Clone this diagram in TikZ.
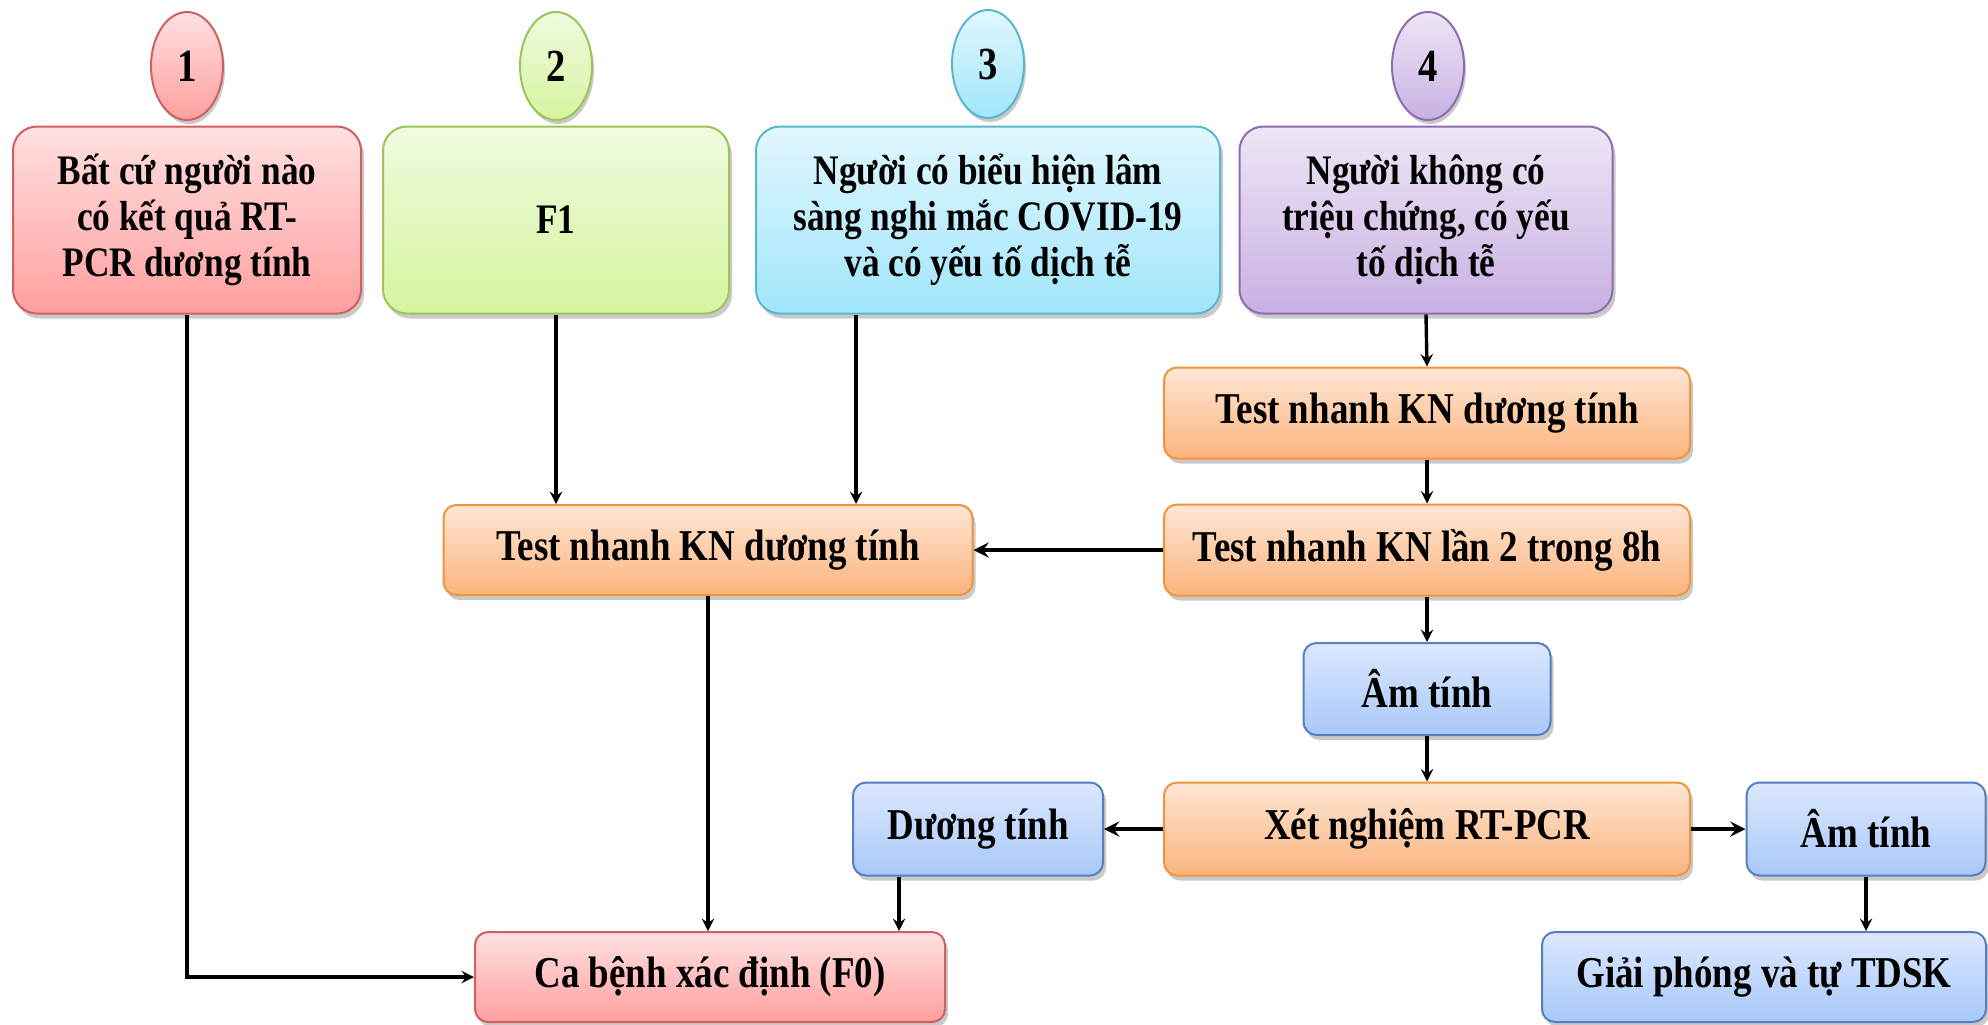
\documentclass[tikz,border=0pt]{standalone}
\usepackage{fontspec}
\newfontfamily\boxfont{Liberation Serif}[UprightFont={* Bold},FakeStretch=0.84]
\usetikzlibrary{shapes.geometric,shadows,calc}

\definecolor{redtop}{HTML}{FFE0E0}  \definecolor{redbot}{HTML}{FF9F9F}  \definecolor{redline}{HTML}{D06060}
\definecolor{greentop}{HTML}{F0FBE0}\definecolor{greenbot}{HTML}{D6F49E}\definecolor{greenline}{HTML}{9BC45A}
\definecolor{cyantop}{HTML}{E2F7FF} \definecolor{cyanbot}{HTML}{A0E6FA} \definecolor{cyanline}{HTML}{5AB5D0}
\definecolor{purptop}{HTML}{EEE6F6} \definecolor{purpbot}{HTML}{C8B0E2} \definecolor{purpline}{HTML}{8E6CB0}
\definecolor{orgtop}{HTML}{FFE6D4}  \definecolor{orgbot}{HTML}{FBB47E}  \definecolor{orgline}{HTML}{F0943C}
\definecolor{bluetop}{HTML}{DCE8FF} \definecolor{bluebot}{HTML}{A8C8F8} \definecolor{blueline}{HTML}{5580C0}

\tikzset{
  box/.style={draw,line width=1pt,rounded corners=6.5pt,inner sep=0pt,align=center,
    font=\boxfont\fontsize{22}{24}\selectfont,
    drop shadow={shadow xshift=1.5pt,shadow yshift=-2.5pt,opacity=.3,fill=black!70}},
  bigbox/.style={box,rounded corners=12pt,minimum height=93.5pt,font=\boxfont\fontsize{21}{23}\selectfont},
  num/.style={ellipse,draw,line width=1pt,inner sep=0pt,minimum width=36pt,minimum height=54pt,
    font=\boxfont\fontsize{23}{24}\selectfont,
    drop shadow={shadow xshift=1pt,shadow yshift=-2pt,opacity=.3,fill=black!70}},
  redc/.style={top color=redtop,bottom color=redbot,draw=redline},
  greenc/.style={top color=greentop,bottom color=greenbot,draw=greenline},
  cyanc/.style={top color=cyantop,bottom color=cyanbot,draw=cyanline},
  purpc/.style={top color=purptop,bottom color=purpbot,draw=purpline},
  orgc/.style={top color=orgtop,bottom color=orgbot,draw=orgline},
  bluec/.style={top color=bluetop,bottom color=bluebot,draw=blueline},
  flow/.style={->,line width=1.7pt},
  side/.style={->,line width=2.3pt}
}

\begin{document}
\begin{tikzpicture}[x=0.5pt,y=-0.5pt,>=stealth]
    \useasboundingbox (0,0) rectangle (1988,1024);
    % numbered groups
    \node[num,redc]   (c1) at (187,66)  {1};
    \node[num,greenc] (c2) at (556,66)  {2};
    \node[num,cyanc]  (c3) at (988,64)  {3};
    \node[num,purpc]  (c4) at (1428,66) {4};
    \node[bigbox,redc,minimum width=174pt]    (b1) at (187,220)  {Bất cứ người nào\\có kết quả RT-\\PCR dương tính};
    \node[bigbox,greenc,minimum width=173pt]  (b2) at (556,220)  {F1};
    \node[bigbox,cyanc,minimum width=232pt]   (b3) at (988,220)  {Người có biểu hiện lâm\\sàng nghi mắc COVID-19\\và có yếu tố dịch tễ};
    \node[bigbox,purpc,minimum width=186.5pt] (b4) at (1426,220) {Người không có\\triệu chứng, có yếu\\tố dịch tễ};
    % test steps
    \node[box,orgc,minimum width=263pt,minimum height=45.5pt]   (tn1) at (1427,413) {Test nhanh KN dương tính};
    \node[box,orgc,minimum width=263pt,minimum height=45.5pt]   (tn2) at (1427,550) {Test nhanh KN lần 2 trong 8h};
    \node[box,orgc,minimum width=264.5pt,minimum height=45pt]   (mid) at (708,550)  {Test nhanh KN dương tính};
    \node[box,bluec,minimum width=123.5pt,minimum height=46pt]  (am1) at (1427,689) {Âm tính};
    \node[box,orgc,minimum width=263pt,minimum height=46.5pt]   (xn) at (1427,829)  {Xét nghiệm RT-PCR};
    \node[box,bluec,minimum width=125pt,minimum height=46.5pt]  (duong) at (978,829) {Dương tính};
    \node[box,bluec,minimum width=119.5pt,minimum height=46.5pt](am2) at (1866,829) {Âm tính};
    \node[box,bluec,minimum width=222pt,minimum height=45pt]    (giai) at (1764,977) {Giải phóng và tự TDSK};
    \node[box,redc,minimum width=235pt,minimum height=45pt]     (f0) at (710,977)   {Ca bệnh xác định (F0)};
    % connectors
    \coordinate (p3) at ([xshift=74pt]mid.north);
    \coordinate (q)  at ([xshift=23.5pt]duong.south west);
    \draw[flow] (b1.south) |- (f0.west);
    \draw[flow] (b2.south) -- (b2.south |- mid.north);
    \draw[flow] (b3.south -| p3) -- (p3);
    \draw[flow] (mid.south) -- (mid.south |- f0.north);
    \draw[flow] (q) -- (q |- f0.north);
    \draw[flow] (b4.south) -- (tn1.north);
    \draw[flow] (tn1.south) -- (tn2.north);
    \draw[side] (tn2.west) -- (mid.east);
    \draw[flow] (tn2.south) -- (am1.north);
    \draw[flow] (am1.south) -- (xn.north);
    \draw[side] (xn.west) -- (duong.east);
    \draw[side] (xn.east) -- (am2.west);
    \draw[flow] (am2.south) -- (am2.south |- giai.north);
\end{tikzpicture}
\end{document}
